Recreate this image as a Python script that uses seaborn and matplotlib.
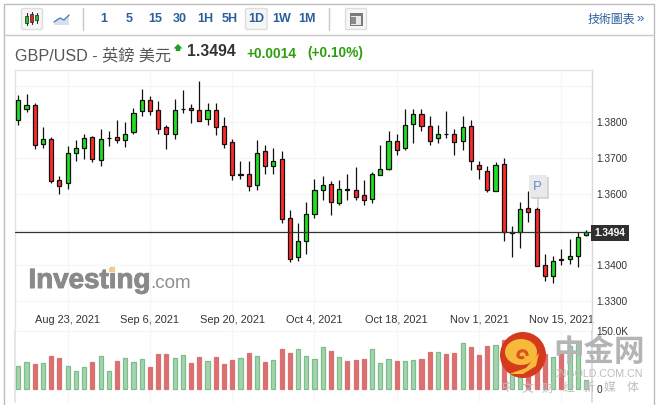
import matplotlib
matplotlib.use("Agg")
import matplotlib.pyplot as plt
import matplotlib.patheffects as pe
from matplotlib.patches import Rectangle, Circle, FancyBboxPatch, Polygon, PathPatch
from matplotlib.path import Path
import numpy as np
import seaborn as sns

highs = [1.3874,1.3877,1.3854,1.3785,1.3759,1.3648,1.3732,1.3749,1.3766,1.3762,
         1.3779,1.3774,1.3805,1.3799,1.3840,1.3891,1.3871,1.3857,1.3791,1.3863,
         1.3888,1.3851,1.3913,1.3854,1.3852,1.3813,1.3753,1.3690,1.3690,1.3749,
         1.3735,1.3726,1.3718,1.3554,1.3517,1.3576,1.3640,1.3648,1.3634,1.3637,
         1.3654,1.3674,1.3637,1.3661,1.3735,1.3774,1.3766,1.3835,1.3835,1.3835,
         1.3816,1.3791,1.3830,1.3780,1.3816,1.3805,1.3692,1.3678,1.3689,1.3699,
         1.3509,1.3578,1.3607,1.3564,1.3431,1.3426,1.3447,1.3473,1.3494,1.3500]
body_tops = [1.3862,1.3848,1.3848,1.3753,1.3753,1.3639,1.3714,1.3726,1.3756,1.3759,
             1.3753,1.3756,1.3759,1.3765,1.3826,1.3862,1.3862,1.3834,1.3787,1.3834,
             1.3837,1.3840,1.3834,1.3834,1.3834,1.3790,1.3745,1.3655,1.3656,1.3714,
             1.3720,1.3692,1.3698,1.3533,1.3469,1.3542,1.3611,1.3625,1.3628,1.3614,
             1.3614,1.3611,1.3597,1.3656,1.3670,1.3748,1.3748,1.3792,1.3823,1.3823,
             1.3790,1.3765,1.3767,1.3767,1.3787,1.3790,1.3681,1.3662,1.3681,1.3684,
             1.3492,1.3558,1.3561,1.3556,1.3402,1.3411,1.3419,1.3425,1.3478,1.3492]
body_bottoms = [1.3806,1.3837,1.3737,1.3739,1.3636,1.3620,1.3631,1.3714,1.3726,1.3698,
                1.3695,1.3755,1.3751,1.3751,1.3773,1.3831,1.3831,1.3779,1.3765,1.3767,
                1.3836,1.3833,1.3804,1.3809,1.3787,1.3739,1.3653,1.3653,1.3622,1.3625,
                1.3678,1.3678,1.3530,1.3419,1.3422,1.3469,1.3544,1.3611,1.3578,1.3575,
                1.3609,1.3592,1.3583,1.3586,1.3653,1.3670,1.3723,1.3726,1.3795,1.3790,
                1.3748,1.3754,1.3765,1.3745,1.3748,1.3690,1.3670,1.3611,1.3607,1.3493,
                1.3491,1.3494,1.3550,1.3397,1.3369,1.3369,1.3414,1.3419,1.3427,1.3486]
lows = [1.3792,1.3828,1.3725,1.3727,1.3630,1.3599,1.3613,1.3691,1.3697,1.3688,
        1.3677,1.3733,1.3741,1.3730,1.3766,1.3817,1.3819,1.3766,1.3725,1.3752,
        1.3825,1.3797,1.3804,1.3792,1.3764,1.3727,1.3638,1.3641,1.3608,1.3610,
        1.3655,1.3655,1.3518,1.3410,1.3412,1.3432,1.3532,1.3582,1.3541,1.3569,
        1.3582,1.3582,1.3569,1.3574,1.3653,1.3666,1.3708,1.3723,1.3741,1.3775,
        1.3736,1.3741,1.3754,1.3708,1.3722,1.3666,1.3641,1.3605,1.3606,1.3468,
        1.3424,1.3449,1.3521,1.3397,1.3357,1.3351,1.3401,1.3405,1.3396,1.3482]
# 1 = up day, 0 = down day
up_days = [1,1,0,1,0,0,1,1,1,0,1,1,0,1,1,1,0,0,0,1,1,0,0,1,0,0,0,1,0,1,
           0,1,0,0,1,1,1,1,0,1,0,0,0,1,1,1,0,1,1,0,0,1,0,0,1,0,0,0,1,0,
           1,1,0,0,0,1,0,1,1,1]
volumes_k = [58.3,69.5,64.3,66.0,84.9,79.8,58.3,45.5,55.7,69.5,84.0,45.5,72.0,78.9,68.6,76.3,56.6,
             90.0,90.0,78.9,86.6,66.9,82.3,71.2,82.3,64.3,74.6,78.9,92.6,84.0,69.5,73.8,102.9,
             92.6,102.0,84.0,76.3,107.2,97.8,81.5,72.0,74.6,77.2,102.0,66.0,76.3,72.0,71.2,73.8,
             77.2,95.2,95.2,90.0,92.6,117.5,108.0,87.5,110.6,113.2,126.0,100.0,66.0,92.0,113.0,
             90.0,81.5,97.8,110.6,120.0,22.3]
date_positions = [6,16,26,36,46,56,66]
date_labels = ["Aug 23, 2021","Sep 6, 2021","Sep 20, 2021","Oct 4, 2021","Oct 18, 2021","Nov 1, 2021","Nov 15, 2021"]
price_ticks = [1.33,1.34,1.35,1.36,1.37,1.38,1.39]
price_labels = ["1.3300","1.3400","","1.3600","1.3700","1.3800",""]
last_price = 1.3494
intervals = ["1","5","15","30","1H","5H","1D","1W","1M"]

W, H = 657, 405
sns.set_theme(style="white")
plt.rcParams['font.family'] = ['Liberation Sans', 'Noto Sans CJK TC', 'DejaVu Sans']
fig = plt.figure(figsize=(W/100, H/100), dpi=100, facecolor="white")

L, R = 14.5, 591.7
def box(top, bottom):
    return [L/W, 1-bottom/H, (R-L)/W, (bottom-top)/H]

GRID, EDGE, INK = "#F6F6F9", "#E2E2EC", "#333333"
idx = np.arange(len(highs))
x0 = -0.46; x1 = 69.69

# price pane
ax = fig.add_axes(box(70.3, 330.7))
ax.set_facecolor("none")
body_h = np.array(body_tops) - np.array(body_bottoms)
sns.barplot(x=idx, y=body_h, bottom=body_bottoms, ax=ax, width=0.5, errorbar=None,
            saturation=1, color="#22DD22", edgecolor="#111111", linewidth=0.9, zorder=3)
for p, u, h in zip(ax.patches, up_days, body_h):
    p.set_facecolor("#20DF20" if u else "#FF2A2A")
ax.vlines(idx, lows, highs, colors="#111111", linewidth=0.9, zorder=2)
ax.axhline(last_price, color="#333333", lw=0.9, zorder=4)
ax.set_xlim(x0, x1)
ax.set_ylim(1.32178, 1.3944)
ax.set_xticks(date_positions, date_labels)
ax.set_yticks(price_ticks, price_labels)
ax.yaxis.tick_right()
ax.tick_params(axis="x", length=0, pad=-11.5, labelsize=7.9, labelcolor=INK)
ax.tick_params(axis="y", length=0, pad=3.6, labelsize=7.3, labelcolor=INK)
ax.grid(True, color=GRID, lw=0.9, zorder=0)
ax.set_axisbelow(True)
ax.set_xlabel(""); ax.set_ylabel("")
for s in ("left", "right", "top"):
    ax.spines[s].set_color(EDGE); ax.spines[s].set_linewidth(1)
ax.spines["right"].set_color("#D8D8E2")
ax.spines["bottom"].set_color(GRID); ax.spines["bottom"].set_linewidth(0.9)

# volume pane
vx = fig.add_axes(box(330.7, 401.5))
vx.set_facecolor("none")
sns.barplot(x=idx, y=volumes_k, ax=vx, width=0.5, errorbar=None, saturation=1,
            color="#A3D4AE", linewidth=0.9, zorder=3)
for p, u in zip(vx.patches, up_days):
    p.set_facecolor("#A3D4AE" if u else "#DB7070")
    p.set_edgecolor("#7DBD8C" if u else "#DB7070")
vx.set_xlim(x0, x1)
vx.set_ylim(-32, 150)
vx.set_xticks(date_positions, [""]*len(date_positions))
vx.set_yticks([0, 150], ["0", "150.0K"])
vx.yaxis.tick_right()
vx.tick_params(axis="x", length=0)
vx.tick_params(axis="y", length=0, pad=3.6, labelsize=7.3, labelcolor=INK)
vx.grid(True, axis="x", color=GRID, lw=0.9, zorder=0)
vx.set_axisbelow(True)
vx.set_xlabel(""); vx.set_ylabel("")
for s in ("top", "bottom"):
    vx.spines[s].set_visible(False)
vx.spines["left"].set_color(EDGE); vx.spines["right"].set_color("#D8D8E2")

# page furniture in pixel coordinates
ov = fig.add_axes([0, 0, 1, 1], zorder=10)
ov.set_xlim(0, W); ov.set_ylim(H, 0); ov.axis("off"); ov.patch.set_alpha(0)
BLUE = "#2B5F9E"
FRAME = "#BDBDBD"
ov.plot([3.5, 3.5, 654, 654], [405, 3.5, 3.5, 405], color=FRAME, lw=1)
ov.plot([3.5, 654], [34.5, 34.5], color="#C9C9C9", lw=1)
for x in (82.5, 328.5):
    ov.plot([x, x], [8, 30], color="#C8C8C8", lw=1)

def button(x, w):
    ov.add_patch(FancyBboxPatch((x, 8.5), w, 21, boxstyle="round,pad=0,rounding_size=1.5",
                                fc="#F6F6F6", ec="#DDDDDD", lw=1))
button(21.5, 21); button(245.5, 21.5); button(345.5, 21)
# candle icon
for x, a, b, t, e, c in [(26.5,13,25,16,23,"#22C022"),(31.5,12,24,14,22,"#E82020"),(36.5,13,23,15,20,"#22C022")]:
    ov.plot([x, x], [a, b], color="#222222", lw=0.8)
    ov.add_patch(Rectangle((x-1.4, t), 2.8, e-t, fc=c, ec="#222222", lw=0.5, zorder=3))
# line icon
ov.add_patch(Polygon([(54,25),(54,22),(60,18),(64,20),(69,15),(69,25)], fc="#D8E0EA", ec="none"))
ov.plot([54,60,64,69],[22,18,20,15], color="#4F84C4", lw=1)
# layout icon
ov.add_patch(Rectangle((349.5, 12.5), 13, 13.5, fc="#7A7A7A", ec="none"))
ov.add_patch(Rectangle((351, 16), 10, 8.5, fc="#E8E8E8", ec="none"))
ov.add_patch(Rectangle((351, 16.5), 4.5, 7.5, fc="#8A8A8A", ec="none"))

for lab, x in zip(intervals, [104,129,155,180,205,230,256,282,307]):
    ov.text(x, 19, lab, ha="center", va="center", color=BLUE, fontsize=9, fontweight="bold")
ov.text(588, 20, "技術圖表", ha="left", va="center", color=BLUE, fontsize=8.6)
ov.text(640.5, 19, "»", ha="center", va="center", color=BLUE, fontsize=9.5)

ov.text(15, 55, "GBP/USD - 英鎊 美元", ha="left", va="center", color="#555555", fontsize=11.6)
ov.add_patch(Polygon([(178,44),(182.5,48.5),(180.3,48.5),(180.3,51),(175.7,51),(175.7,48.5),(173.5,48.5)],
                     fc="#1FA01F", ec="none"))
ov.text(187, 52, "1.3494", ha="left", va="center", color="#333333", fontsize=11.3, fontweight="bold")
ov.text(246, 53.5, "+0.0014", ha="left", va="center", color="#2E9E0E", fontsize=9.9, fontweight="bold")
ov.text(307, 53.5, "(+0.10%)", ha="left", va="center", color="#2E9E0E", fontsize=9.9, fontweight="bold")

# last price tag
ov.add_patch(Rectangle((590.5, 225), 38, 15.5, fc="#2F2F2F", ec="none"))
ov.text(609.5, 233, "1.3494", ha="center", va="center", color="white", fontsize=7.3, fontweight="bold")

# P badge
ov.plot([537.5, 537.5], [198, 207], color="#CFCFCF", lw=1.2)
ov.add_patch(Rectangle((530.5, 176.5), 18, 22.5, fc="#D6D6D6", ec="none"))
ov.add_patch(Rectangle((529.3, 175.3), 17.5, 22, fc="#E9E9E9", ec="none"))
ov.text(537.7, 187.5, "P", ha="center", va="center", color="#5B8FD0", fontsize=9.5)

# Investing.com watermark
inv = ov.text(28.5, 281, "Investing", ha="left", va="center", color="#8A8A8A", fontsize=20, fontweight="bold")
inv.set_path_effects([pe.withStroke(linewidth=0.7, foreground="#8A8A8A")])
ov.text(150.5, 283, ".com", ha="left", va="center", color="#8F8F8F", fontsize=13.6)
ov.add_patch(Polygon([(109,268),(115,266.5),(115,272),(109,272)], fc="#F7C98A", ec="none", zorder=5))

# cngold watermark
cx, cy = 523, 355
ov.add_patch(Circle((cx, cy), 23, fc="#D63A1C", ec="none", zorder=6))
t = np.linspace(0, 2*np.pi, 60)
ov.add_patch(Polygon(np.c_[cx-2+16*np.cos(t), cy-3+13*np.sin(t)], fc="#F6B93B", ec="none", zorder=7))
ov.add_patch(PathPatch(Path([(cx+4,cy+1),(cx+5,cy-6),(cx-6,cy-6),(cx-5,cy+1),(cx-3,cy+4),(cx+1,cy+2)],
                            [1,4,4,4,3,3]), fc="none", ec="#D9531E", lw=2.2, zorder=8))
ov.add_patch(Polygon([(cx-14,cy+19),(cx+3,cy+13),(cx+16,cy-2),(cx+13,cy+11),(cx,cy+19)], fc="#F6B93B", ec="none", zorder=7))
ov.text(599, 351.5, "中金网", ha="center", va="center", color="#B4B4B4", fontsize=22, fontweight="bold",
        family=["Noto Sans CJK SC", "DejaVu Sans"], zorder=6)
ov.text(552, 374, "CNGOLD.COM.CN", ha="left", va="center", color="#BDBDBD", fontsize=7.7, zorder=6)
for ch, x in zip("中文财经新媒体", [508,527,547,568,588,609,633]):
    ov.text(x, 388, ch, ha="center", va="center", color="#BDBDBD", fontsize=8.5,
            family=["Noto Sans CJK SC", "DejaVu Sans"], zorder=6)

fig.savefig("out.png", dpi=100, facecolor="white")
